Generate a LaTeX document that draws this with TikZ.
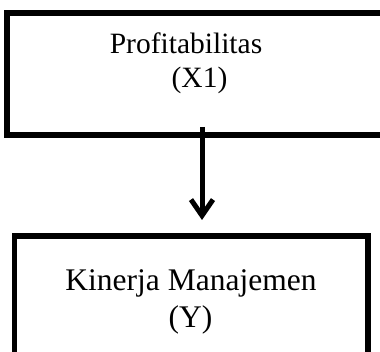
\documentclass[tikz,border=0pt]{standalone}
\usepackage{fontspec}
\setmainfont{Liberation Serif}
\usetikzlibrary{arrows.meta}
\begin{document}
\begin{tikzpicture}[x=1pt,y=1pt,
  box/.style={draw=black,line width=5.5pt,rectangle,inner sep=0pt,outer sep=0pt},
  lbl/.style={inner sep=0pt,anchor=base},
  arr/.style={line width=5pt,-{Straight Barb[length=16pt,width=22pt]}}]
\useasboundingbox (0,0) rectangle (380,351);
\fill[white] (0,0) rectangle (380,351);
\node[box,minimum width=390pt,minimum height=122pt] (top) at (202,277) {};
\node[box,minimum width=353.5pt,minimum height=124pt] (bot) at (191.25,53) {};
\node[lbl,font=\fontsize{29.5}{35}\selectfont] (t1) at (186,297) {Profitabilitas};
\node[lbl,font=\fontsize{29.5}{35}\selectfont] (t2) at (199.5,263) {(X1)};
\node[lbl,font=\fontsize{31.5}{37}\selectfont] (b1) at (191,61) {Kinerja Manajemen};
\node[lbl,font=\fontsize{31.5}{37}\selectfont] (b2) at (190.5,24) {(Y)};
\coordinate (tip) at ([yshift=16pt]bot.north -| top.south);
\draw[arr] ([yshift=8pt]top.south) -- (tip);
\end{tikzpicture}
\end{document}
